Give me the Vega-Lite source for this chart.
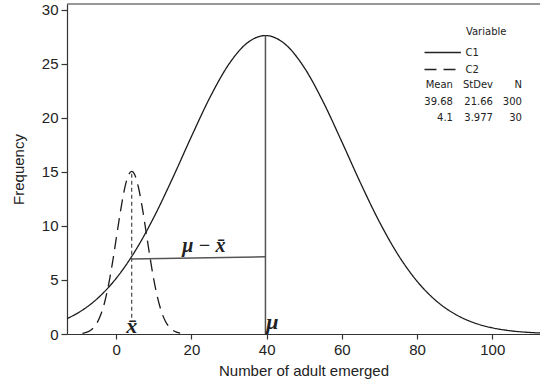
{
  "$schema": "https://vega.github.io/schema/vega-lite/v6.json",
  "width": 473,
  "height": 330,
  "autosize": {"type": "none"},
  "padding": {"left": 67, "top": 4, "right": 0, "bottom": 51},
  "background": "white",
  "config": {
    "view": {"stroke": null},
    "axis": {"grid": false, "domainColor": "#333", "tickColor": "#333", "domainWidth": 1.2, "tickWidth": 1.2, "labelColor": "#222", "titleColor": "#222", "labelFont": "Liberation Sans", "titleFont": "Liberation Sans", "labelFontSize": 15, "titleFontSize": 15, "titleFontWeight": "normal"},
    "text": {"color": "#222"}
  },
  "datasets": {
    "curves": [
      {"Variable": "C1", "x": -13.1, "Frequency": 1.419},
      {"Variable": "C1", "x": -10, "Frequency": 1.990},
      {"Variable": "C1", "x": -5, "Frequency": 3.291},
      {"Variable": "C1", "x": 0, "Frequency": 5.160},
      {"Variable": "C1", "x": 5, "Frequency": 7.668},
      {"Variable": "C1", "x": 10, "Frequency": 10.804},
      {"Variable": "C1", "x": 15, "Frequency": 14.436},
      {"Variable": "C1", "x": 20, "Frequency": 18.285},
      {"Variable": "C1", "x": 25, "Frequency": 21.958},
      {"Variable": "C1", "x": 30, "Frequency": 25.001},
      {"Variable": "C1", "x": 35, "Frequency": 26.990},
      {"Variable": "C1", "x": 39.68, "Frequency": 27.627},
      {"Variable": "C1", "x": 45, "Frequency": 26.806},
      {"Variable": "C1", "x": 50, "Frequency": 24.663},
      {"Variable": "C1", "x": 55, "Frequency": 21.513},
      {"Variable": "C1", "x": 60, "Frequency": 17.793},
      {"Variable": "C1", "x": 65, "Frequency": 13.951},
      {"Variable": "C1", "x": 70, "Frequency": 10.372},
      {"Variable": "C1", "x": 75, "Frequency": 7.310},
      {"Variable": "C1", "x": 80, "Frequency": 4.886},
      {"Variable": "C1", "x": 85, "Frequency": 3.096},
      {"Variable": "C1", "x": 90, "Frequency": 1.860},
      {"Variable": "C1", "x": 95, "Frequency": 1.059},
      {"Variable": "C1", "x": 100, "Frequency": 0.572},
      {"Variable": "C1", "x": 105, "Frequency": 0.293},
      {"Variable": "C1", "x": 110, "Frequency": 0.142},
      {"Variable": "C1", "x": 112.7, "Frequency": 0.094},
      {"Variable": "C2", "x": -9, "Frequency": 0.066},
      {"Variable": "C2", "x": -8, "Frequency": 0.147},
      {"Variable": "C2", "x": -7, "Frequency": 0.306},
      {"Variable": "C2", "x": -6, "Frequency": 0.598},
      {"Variable": "C2", "x": -5, "Frequency": 1.098},
      {"Variable": "C2", "x": -4, "Frequency": 1.891},
      {"Variable": "C2", "x": -3, "Frequency": 3.057},
      {"Variable": "C2", "x": -2, "Frequency": 4.641},
      {"Variable": "C2", "x": -1, "Frequency": 6.612},
      {"Variable": "C2", "x": 0, "Frequency": 8.845},
      {"Variable": "C2", "x": 1, "Frequency": 11.105},
      {"Variable": "C2", "x": 2, "Frequency": 13.089},
      {"Variable": "C2", "x": 3, "Frequency": 14.482},
      {"Variable": "C2", "x": 4.1, "Frequency": 15.047},
      {"Variable": "C2", "x": 5, "Frequency": 14.667},
      {"Variable": "C2", "x": 6, "Frequency": 13.424},
      {"Variable": "C2", "x": 7, "Frequency": 11.534},
      {"Variable": "C2", "x": 8, "Frequency": 9.303},
      {"Variable": "C2", "x": 9, "Frequency": 7.044},
      {"Variable": "C2", "x": 10, "Frequency": 5.007},
      {"Variable": "C2", "x": 11, "Frequency": 3.341},
      {"Variable": "C2", "x": 12, "Frequency": 2.092},
      {"Variable": "C2", "x": 13, "Frequency": 1.230},
      {"Variable": "C2", "x": 14, "Frequency": 0.679},
      {"Variable": "C2", "x": 15, "Frequency": 0.352},
      {"Variable": "C2", "x": 16, "Frequency": 0.171},
      {"Variable": "C2", "x": 17, "Frequency": 0.078}
    ],
    "stats": [
      {"Variable": "C1", "Mean": 39.68, "StDev": 21.66, "N": 300},
      {"Variable": "C2", "Mean": 4.1, "StDev": 3.977, "N": 30}
    ],
    "solidSegments": [
      {"segment": "mu", "x": 39.68, "y": 0, "x2": 39.68, "y2": 27.63},
      {"segment": "mu minus xbar", "x": 4.1, "y": 6.95, "x2": 39.68, "y2": 7.15}
    ],
    "dashedSegments": [
      {"segment": "xbar", "x": 4.1, "y": 1.5, "x2": 4.1, "y2": 15.05}
    ]
  },
  "layer": [
    {
      "data": {"values": [{}]},
      "mark": {"type": "rule", "color": "#333", "strokeWidth": 1.2},
      "encoding": {"y": {"datum": 30.55, "type": "quantitative"}}
    },
    {
      "data": {"name": "curves"},
      "mark": {"type": "line", "interpolate": "monotone", "color": "#1a1a1a", "strokeWidth": 1.3, "clip": true},
      "encoding": {
        "x": {"field": "x", "type": "quantitative", "scale": {"domain": [-13.1, 112.7], "nice": false, "zero": false},
              "axis": {"title": "Number of adult emerged", "values": [0, 20, 40, 60, 80, 100], "tickSize": 5, "labelPadding": 3, "titlePadding": 6, "labelFlush": false}},
        "y": {"field": "Frequency", "type": "quantitative", "scale": {"domain": [0, 30.55], "nice": false},
              "axis": {"title": "Frequency", "values": [0, 5, 10, 15, 20, 25, 30], "tickSize": 6, "labelPadding": 3, "titlePadding": 15, "labelFlush": false}},
        "strokeDash": {"field": "Variable", "type": "nominal", "scale": {"domain": ["C1", "C2"], "range": [[1, 0], [12, 7]]},
                       "legend": {"title": null, "orient": "none", "legendX": 370.7, "legendY": 43.5, "symbolType": "M-5.2,0H5.2", "symbolSize": 49, "symbolStrokeWidth": 1.3, "symbolStrokeColor": "#222", "labelFont": "DejaVu Sans", "labelFontSize": 10, "labelColor": "#222", "labelOffset": 17.7, "rowPadding": 7}}
      }
    },
    {
      "data": {"name": "solidSegments"},
      "mark": {"type": "rule", "color": "#555", "strokeWidth": 1.5},
      "encoding": {"x": {"field": "x", "type": "quantitative"}, "y": {"field": "y", "type": "quantitative"}, "x2": {"field": "x2"}, "y2": {"field": "y2"}}
    },
    {
      "data": {"name": "dashedSegments"},
      "mark": {"type": "rule", "color": "#555", "strokeWidth": 1.3, "strokeDash": [4, 3]},
      "encoding": {"x": {"field": "x", "type": "quantitative"}, "y": {"field": "y", "type": "quantitative"}, "x2": {"field": "x2"}, "y2": {"field": "y2"}}
    },
    {
      "data": {"values": [{}]},
      "mark": {"type": "text", "font": "Liberation Serif", "fontStyle": "italic", "fontWeight": "bold", "fontSize": 20, "align": "center", "baseline": "alphabetic"},
      "encoding": {"x": {"datum": 23.3}, "y": {"datum": 7.6}, "text": {"value": "μ − x\u0304"}}
    },
    {
      "data": {"values": [{}]},
      "mark": {"type": "text", "font": "Liberation Serif", "fontStyle": "italic", "fontWeight": "bold", "fontSize": 22, "align": "center", "baseline": "alphabetic"},
      "encoding": {"x": {"datum": 4.1}, "y": {"datum": 0.1}, "text": {"value": "x\u0304"}}
    },
    {
      "data": {"values": [{}]},
      "mark": {"type": "text", "font": "Liberation Serif", "fontStyle": "italic", "fontWeight": "bold", "fontSize": 22, "align": "left", "baseline": "alphabetic"},
      "encoding": {"x": {"datum": 39.9}, "y": {"datum": 0.45}, "text": {"value": "μ"}}
    },
    {
      "data": {"values": [{}]},
      "mark": {"type": "text", "font": "DejaVu Sans", "fontSize": 10, "align": "left", "baseline": "middle"},
      "encoding": {"x": {"datum": 93.0}, "y": {"datum": 27.98}, "text": {"value": "Variable"}}
    },
    {
      "data": {"values": [{}]},
      "mark": {"type": "text", "font": "DejaVu Sans", "fontSize": 10, "align": "right", "baseline": "middle"},
      "encoding": {"x": {"datum": 89.55}, "y": {"datum": 23.06}, "text": {"value": "Mean"}}
    },
    {
      "data": {"values": [{}]},
      "mark": {"type": "text", "font": "DejaVu Sans", "fontSize": 10, "align": "right", "baseline": "middle"},
      "encoding": {"x": {"datum": 100.19}, "y": {"datum": 23.06}, "text": {"value": "StDev"}}
    },
    {
      "data": {"values": [{}]},
      "mark": {"type": "text", "font": "DejaVu Sans", "fontSize": 10, "align": "right", "baseline": "middle"},
      "encoding": {"x": {"datum": 107.9}, "y": {"datum": 23.06}, "text": {"value": "N"}}
    },
    {
      "data": {"name": "stats"},
      "transform": [{"filter": "datum.Variable === 'C1'"}],
      "mark": {"type": "text", "font": "DejaVu Sans", "fontSize": 10, "align": "right", "baseline": "middle"},
      "encoding": {"x": {"datum": 89.55}, "y": {"datum": 21.48}, "text": {"field": "Mean", "type": "nominal"}}
    },
    {
      "data": {"name": "stats"},
      "transform": [{"filter": "datum.Variable === 'C1'"}],
      "mark": {"type": "text", "font": "DejaVu Sans", "fontSize": 10, "align": "right", "baseline": "middle"},
      "encoding": {"x": {"datum": 100.19}, "y": {"datum": 21.48}, "text": {"field": "StDev", "type": "nominal"}}
    },
    {
      "data": {"name": "stats"},
      "transform": [{"filter": "datum.Variable === 'C1'"}],
      "mark": {"type": "text", "font": "DejaVu Sans", "fontSize": 10, "align": "right", "baseline": "middle"},
      "encoding": {"x": {"datum": 107.9}, "y": {"datum": 21.48}, "text": {"field": "N", "type": "nominal"}}
    },
    {
      "data": {"name": "stats"},
      "transform": [{"filter": "datum.Variable === 'C2'"}],
      "mark": {"type": "text", "font": "DejaVu Sans", "fontSize": 10, "align": "right", "baseline": "middle"},
      "encoding": {"x": {"datum": 89.55}, "y": {"datum": 20.0}, "text": {"field": "Mean", "type": "nominal"}}
    },
    {
      "data": {"name": "stats"},
      "transform": [{"filter": "datum.Variable === 'C2'"}],
      "mark": {"type": "text", "font": "DejaVu Sans", "fontSize": 10, "align": "right", "baseline": "middle"},
      "encoding": {"x": {"datum": 100.19}, "y": {"datum": 20.0}, "text": {"field": "StDev", "type": "nominal"}}
    },
    {
      "data": {"name": "stats"},
      "transform": [{"filter": "datum.Variable === 'C2'"}],
      "mark": {"type": "text", "font": "DejaVu Sans", "fontSize": 10, "align": "right", "baseline": "middle"},
      "encoding": {"x": {"datum": 107.9}, "y": {"datum": 20.0}, "text": {"field": "N", "type": "nominal"}}
    }
  ]
}
